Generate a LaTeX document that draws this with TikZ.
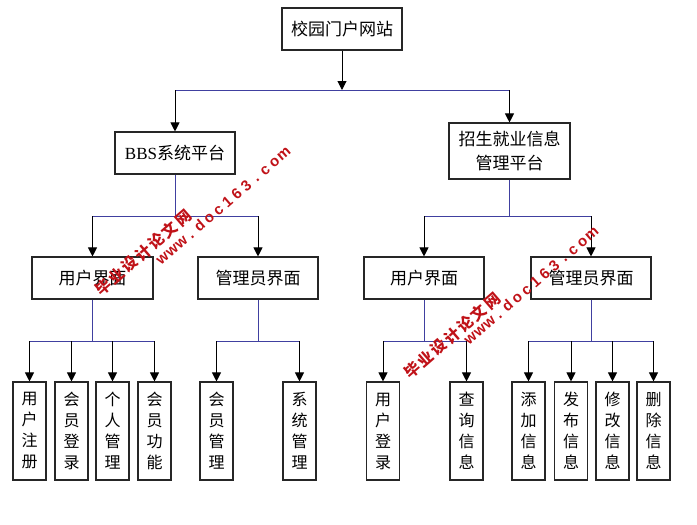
\documentclass[tikz,border=0pt]{standalone}
\usepackage{fontspec}
\setmainfont{Liberation Serif}
\newfontfamily\cjk{Noto Sans CJK SC}
\newfontfamily\wmlat{Liberation Sans}
\usetikzlibrary{arrows.meta}
\definecolor{trunkc}{RGB}{64,64,160}
\definecolor{wmred}{RGB}{192,18,24}
\tikzset{
  box/.style={draw=black!85, line width=1.1pt, fill=white, inner sep=0pt, align=center,
    font=\cjk\fontsize{17}{24}\selectfont},
  hbox/.style={box, minimum width=120pt, minimum height=42pt},
  vbox/.style={box, minimum width=33pt, minimum height=98pt, font=\cjk\fontsize{16}{21}\selectfont},
  trunk/.style={draw=trunkc, line width=1pt},
  arr/.style={draw=black, line width=1pt, -{Triangle[width=9pt,length=9pt]}},
  wmc/.style={text=wmred, inner sep=0pt, anchor=center, rotate=41, text height=12pt, text depth=0pt,
    font=\cjk\bfseries\fontsize{15.5}{15.5}\selectfont},
  wml/.style={text=wmred, inner sep=0pt, anchor=center, rotate=41, text height=11pt, text depth=0pt,
    font=\wmlat\bfseries\fontsize{15}{15}\selectfont}
}
\begin{document}
\begin{tikzpicture}[x=1pt,y=-1pt]
\useasboundingbox (0,0) rectangle (697,525);
% level 0
\node[hbox] (top) at (342,29) {校园门户网站};
% level 1
\node[hbox] (bbs) at (175,153) {\rmfamily BBS\cjk 系统平台};
\node[hbox, minimum width=121pt, minimum height=56pt] (plat) at (509.5,151) {招生就业信息\\管理平台};
% level 2
\node[hbox, minimum width=121pt] (u1) at (92.5,278) {用户界面};
\node[hbox] (m1) at (258,278) {管理员界面};
\node[hbox] (u2) at (424,278) {用户界面};
\node[hbox] (m2) at (591,278) {管理员界面};
% level 3
\node[vbox] (a1) at (29.5,431) {用\\户\\注\\册};
\node[vbox] (a2) at (71.5,431) {会\\员\\登\\录};
\node[vbox] (a3) at (112.5,431) {个\\人\\管\\理};
\node[vbox] (a4) at (154.5,431) {会\\员\\功\\能};
\node[vbox] (b1) at (216.5,431) {会\\员\\管\\理};
\node[vbox] (b2) at (299.5,431) {系\\统\\管\\理};
\node[vbox] (c1) at (383,431) {用\\户\\登\\录};
\node[vbox] (c2) at (466.5,431) {查\\询\\信\\息};
\node[vbox] (d1) at (528.5,431) {添\\加\\信\\息};
\node[vbox] (d2) at (571,431) {发\\布\\信\\息};
\node[vbox] (d3) at (612.5,431) {修\\改\\信\\息};
\node[vbox] (d4) at (653.5,431) {删\\除\\信\\息};
% junction coordinates
\coordinate (j0) at (342,90);
\coordinate (j1) at (0,216);
\coordinate (j3) at (0,341);
% level 0 -> 1
\draw[trunk] (bbs |- j0) -- (plat |- j0);
\draw[arr] (top) -- (j0);
\draw[arr] (bbs |- j0) -- (bbs);
\draw[arr] (plat |- j0) -- (plat);
% level 1 -> 2
\draw[trunk] (bbs) -- (bbs |- j1);
\draw[trunk] (u1 |- j1) -- (m1 |- j1);
\draw[arr] (u1 |- j1) -- (u1);
\draw[arr] (m1 |- j1) -- (m1);
\draw[trunk] (plat) -- (plat |- j1);
\draw[trunk] (u2 |- j1) -- (m2 |- j1);
\draw[arr] (u2 |- j1) -- (u2);
\draw[arr] (m2 |- j1) -- (m2);
% level 2 -> 3
\draw[trunk] (u1) -- (u1 |- j3);
\draw[trunk] (a1 |- j3) -- (a4 |- j3);
\foreach \n in {a1,a2,a3,a4} \draw[arr] (\n |- j3) -- (\n);
\draw[trunk] (m1) -- (m1 |- j3);
\draw[trunk] (b1 |- j3) -- (b2 |- j3);
\foreach \n in {b1,b2} \draw[arr] (\n |- j3) -- (\n);
\draw[trunk] (u2) -- (u2 |- j3);
\draw[trunk] (c1 |- j3) -- (c2 |- j3);
\foreach \n in {c1,c2} \draw[arr] (\n |- j3) -- (\n);
\draw[trunk] (m2) -- (m2 |- j3);
\draw[trunk] (d1 |- j3) -- (d4 |- j3);
\foreach \n in {d1,d2,d3,d4} \draw[arr] (\n |- j3) -- (\n);
% watermarks
\foreach \sx/\sy/\tx/\ty/\k in {103/287/162/258/p,412/370/470/338/q}{
  \foreach \c [count=\i from 0] in {毕,业,设,计,论,文,网}
    \node[wmc] (wc\k\i) at ({\sx+\i*13.33},{\sy-\i*11.5}) {\c};
  \foreach \c [count=\i from 0] in {w,w,w,.,d,o,c,1,6,3,.,c,o,m}
    \node[wml] (wl\k\i) at ({\tx+\i*9.31},{\ty-\i*8.08}) {\c};
}
\end{tikzpicture}
\end{document}
